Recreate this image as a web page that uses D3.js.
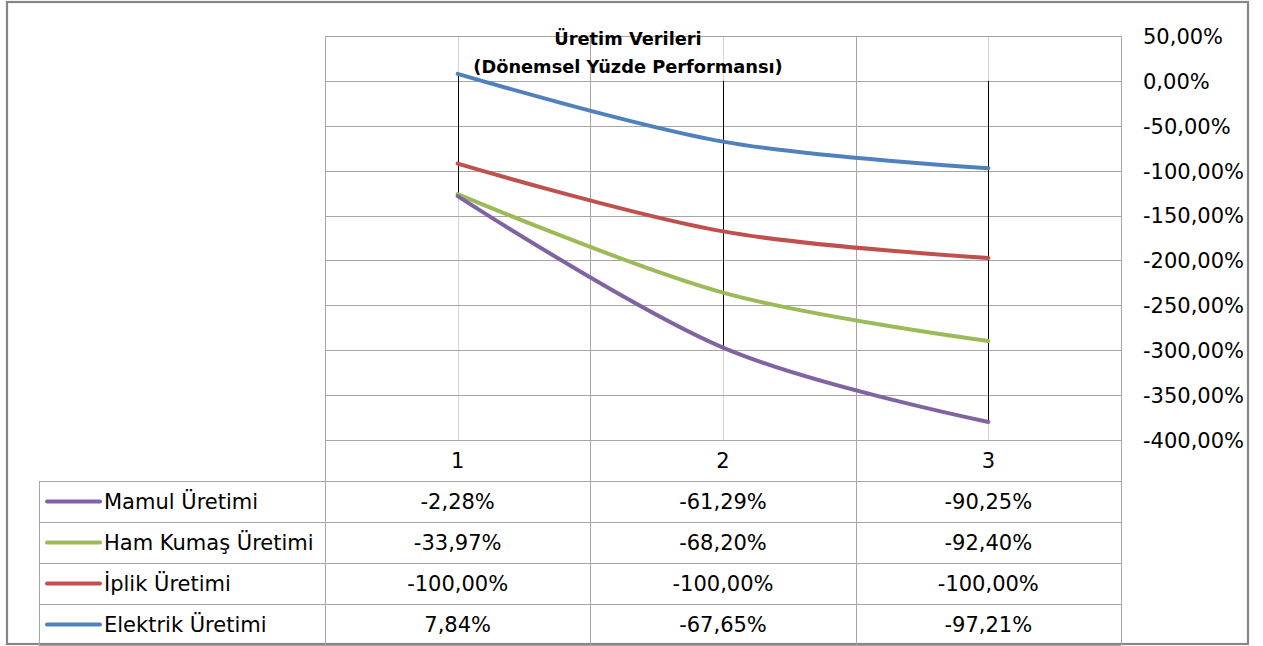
<!DOCTYPE html>
<html><head><meta charset="utf-8">
<script src="https://cdn.jsdelivr.net/npm/d3@7"></script>
<style>
html,body{margin:0;padding:0;background:#fff;}
svg{display:block;}
text{font-family:"DejaVu Sans",sans-serif;fill:#000;}
</style></head>
<body>
<svg id="c" width="1263" height="646"></svg>
<script>
// ---- data ----
const categories = [1, 2, 3];
const seriesNames = ["Mamul Üretimi", "Ham Kumaş Üretimi", "İplik Üretimi", "Elektrik Üretimi"];
const mamul    = [-2.28, -61.29, -90.25];
const hamKumas = [-33.97, -68.20, -92.40];
const iplik    = [-100.00, -100.00, -100.00];
const elektrik = [7.84, -67.65, -97.21];
const yTicks = [50, 0, -50, -100, -150, -200, -250, -300, -350, -400];
const colors = {"Mamul Üretimi":"#8064A2","Ham Kumaş Üretimi":"#9BBB59","İplik Üretimi":"#C0504D","Elektrik Üretimi":"#4F81BD"};
const titleLines = ["Üretim Verileri", "(Dönemsel Yüzde Performansı)"];

const valuesByName = {"Mamul Üretimi":mamul,"Ham Kumaş Üretimi":hamKumas,"İplik Üretimi":iplik,"Elektrik Üretimi":elektrik};
// stacking order (Excel stacked line): Elektrik first, then İplik, Ham Kumaş, Mamul
const stackKeys = ["Elektrik Üretimi","İplik Üretimi","Ham Kumaş Üretimi","Mamul Üretimi"];
const rows = categories.map((c,i)=>{const r={cat:c}; stackKeys.forEach(k=>r[k]=valuesByName[k][i]); return r;});
const stacked = d3.stack().keys(stackKeys).order(d3.stackOrderNone).offset(d3.stackOffsetNone)(rows);

const svg = d3.select("#c");
const L=325, R=1121, T=36, B=440;
const x = d3.scaleBand().domain(categories).range([L,R]);
const y = d3.scaleLinear().domain([-400,50]).range([B,T]);
const loc = d3.formatLocale({decimal:",",thousands:".",grouping:[3],currency:["","%"],minus:"-"});
const fmt = v => loc.format(".2f")(v) + "%";

// outer border
svg.append("rect").attr("x",7).attr("y",2).attr("width",1241).attr("height",642)
  .attr("fill","#fff").attr("stroke","#868686").attr("stroke-width",2.2);

// vertical gridlines at category centers (light)
const gc = svg.append("g").attr("stroke","#d4d4d4").attr("stroke-width",1);
categories.forEach(c=>{
  const cx = Math.round(x(c)+x.bandwidth()/2)+0.5;
  gc.append("line").attr("x1",cx).attr("x2",cx).attr("y1",T).attr("y2",B);
});
// horizontal gridlines
const gh = svg.append("g").attr("stroke","#a6a6a6").attr("stroke-width",1);
yTicks.forEach(t=>{
  const yy = Math.round(y(t))+0.5;
  gh.append("line").attr("x1",L).attr("x2",R).attr("y1",yy).attr("y2",yy);
});
// category boundaries
const gb = svg.append("g").attr("stroke","#a6a6a6").attr("stroke-width",1);
const bounds = categories.map(c=>x(c)).concat([R]);
bounds.forEach(bx=>{
  const xx = Math.round(bx)+0.5;
  gb.append("line").attr("x1",xx).attr("x2",xx).attr("y1",T).attr("y2",B);
});

// y axis labels (right)
const ya = d3.axisRight(y).tickValues(yTicks).tickFormat(fmt).tickSize(0).tickPadding(0);
const yg = svg.append("g").attr("transform",`translate(1143,0)`).call(ya);
yg.select(".domain").remove();
yg.selectAll("text").attr("font-size",21).attr("font-family","DejaVu Sans").attr("fill","#000").attr("dy","0.35em");

// drop lines
const tops = categories.map((c,i)=>d3.max(stacked,s=>s[i][1]));
const bots = categories.map((c,i)=>d3.min(stacked,s=>s[i][1]));
svg.append("g").selectAll("line").data(categories).join("line")
  .attr("x1",(c)=>Math.round(x(c)+x.bandwidth()/2)+0.5)
  .attr("x2",(c)=>Math.round(x(c)+x.bandwidth()/2)+0.5)
  .attr("y1",(c,i)=>y(Math.max(0,tops[i])))
  .attr("y2",(c,i)=>y(Math.min(0,bots[i])))
  .attr("stroke","#000").attr("stroke-width",1);

// lines
const line = d3.line().x((d,i)=>x(categories[i])+x.bandwidth()/2).y(d=>y(d[1])).curve(d3.curveCardinal.tension(0));
svg.append("g").selectAll("path").data(stacked).join("path")
  .attr("d",s=>line(s)).attr("fill","none")
  .attr("stroke",s=>colors[s.key]).attr("stroke-width",4).attr("stroke-linecap","round");

// title
const tt = svg.append("text").attr("x",628).attr("text-anchor","middle")
  .attr("font-weight","bold").attr("font-size",17.8);
tt.selectAll("tspan").data(titleLines).join("tspan").attr("x",628).attr("y",(d,i)=>i===0?45:73).text(d=>d);

// data table
const tableTop = B, headerH = 41, rowH = 41, tblLeft = 39;
const tg = svg.append("g");
const rowY = i => tableTop + headerH + i*rowH;
// horizontal lines
const hl = tg.append("g").attr("stroke","#a6a6a6").attr("stroke-width",1);
hl.append("line").attr("x1",L).attr("x2",R).attr("y1",tableTop+0.5).attr("y2",tableTop+0.5);
for(let i=0;i<=seriesNames.length;i++){
  const yy = Math.round(rowY(i))+0.5;
  hl.append("line").attr("x1",tblLeft).attr("x2",R).attr("y1",yy).attr("y2",yy);
}
// vertical lines
bounds.forEach(bx=>{
  const xx=Math.round(bx)+0.5;
  hl.append("line").attr("x1",xx).attr("x2",xx).attr("y1",tableTop).attr("y2",rowY(seriesNames.length));
});
hl.append("line").attr("x1",tblLeft+0.5).attr("x2",tblLeft+0.5).attr("y1",rowY(0)).attr("y2",rowY(seriesNames.length));

// header labels
tg.selectAll("text.cat").data(categories).join("text").attr("class","cat")
  .attr("x",c=>x(c)+x.bandwidth()/2).attr("y",tableTop+headerH/2).attr("dy","0.35em")
  .attr("text-anchor","middle").attr("font-size",21).text(c=>c);
// rows
seriesNames.forEach((name,i)=>{
  const cy = rowY(i)+rowH/2;
  tg.append("line").attr("x1",47).attr("x2",100).attr("y1",cy).attr("y2",cy)
    .attr("stroke",colors[name]).attr("stroke-width",4).attr("stroke-linecap","round");
  tg.append("text").attr("x",104).attr("y",cy).attr("dy","0.35em").attr("font-size",21).text(name);
  valuesByName[name].forEach((v,j)=>{
    tg.append("text").attr("x",x(categories[j])+x.bandwidth()/2).attr("y",cy).attr("dy","0.35em")
      .attr("text-anchor","middle").attr("font-size",21).text(fmt(v));
  });
});
</script>
</body></html>
